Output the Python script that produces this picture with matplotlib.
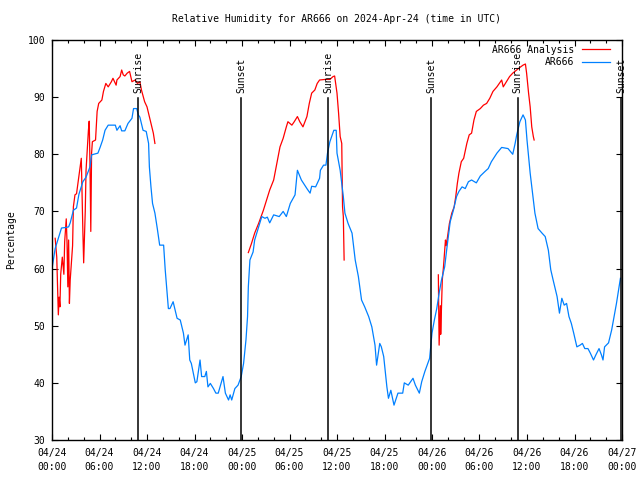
import numpy as np
import matplotlib
matplotlib.use("Agg")
import matplotlib.pyplot as plt
from matplotlib.ticker import MultipleLocator

# ---- data (hours since 2024-04-24 00:00 UTC, relative humidity %) ----
obs_t = [0.0, 0.4, 0.8, 1.2, 1.8, 2.1, 2.3, 2.7, 3.1, 3.4, 3.9, 4.3, 4.8, 5.0, 5.8, 6.1, 6.4, 6.7,
         7.1, 8.0, 8.2, 8.6, 8.8, 9.2, 9.6, 10.1, 10.3, 10.7, 10.9, 11.1, 11.5, 11.9, 12.2, 12.3,
         12.5, 12.7, 13.0, 13.3, 13.6, 14.1, 14.3, 14.5, 14.7, 14.9, 15.3, 15.8, 16.2, 16.6, 16.8,
         17.2, 17.4, 17.6, 18.1, 18.3, 18.7, 18.9, 19.3, 19.5, 19.7, 20.0, 20.4, 20.7, 21.0, 21.6,
         21.9, 22.3, 22.5, 22.7, 23.1, 23.5, 23.9, 24.2, 24.5, 24.7, 24.8, 25.0, 25.4, 25.6, 26.1,
         26.5, 26.9, 27.2, 27.5, 28.0, 28.7, 29.2, 29.6, 30.1, 30.7, 31.0, 31.5, 32.2, 32.6, 32.8,
         33.3, 33.8, 33.9, 34.3, 34.6, 34.8, 35.1, 35.6, 35.9, 36.0, 36.4, 36.8, 37.0, 37.4, 37.9,
         38.3, 38.7, 39.1, 39.5, 40.0, 40.4, 40.8, 41.0, 41.4, 41.6, 41.9, 42.3, 42.5, 42.8, 43.2,
         43.7, 44.3, 44.5, 45.0, 45.2, 45.6, 45.9, 46.4, 46.7, 47.1, 47.7, 48.0, 48.3, 48.6, 48.9,
         49.2, 49.6, 49.9, 50.3, 50.7, 51.1, 51.4, 51.8, 52.2, 52.6, 53.0, 53.6, 54.1, 54.7, 55.1,
         55.5, 56.2, 56.8, 57.6, 57.9, 58.2, 58.5, 58.7, 59.1, 59.5, 59.8, 60.0, 60.4, 60.7, 61.0,
         61.4, 61.9, 62.3, 62.7, 63.0, 63.3, 63.8, 64.1, 64.4, 64.7, 65.0, 65.3, 65.6, 65.9, 66.3,
         66.7, 67.0, 67.3, 67.7, 68.0, 68.4, 68.7, 69.1, 69.4, 69.6, 69.8, 70.3, 70.7, 71.0, 71.3,
         71.7, 71.8]
obs_rh = [60.0, 63.5, 65.3, 67.1, 67.2, 67.3, 68.0, 70.2, 70.6, 73.0, 75.2, 76.0, 77.8, 79.9, 80.2,
          81.3, 82.5, 84.2, 85.1, 85.1, 84.2, 85.0, 84.1, 84.1, 85.4, 86.3, 88.0, 88.0, 86.9, 86.5,
          84.2, 84.0, 81.9, 77.8, 74.3, 71.4, 69.7, 67.0, 64.1, 64.1, 59.8, 56.3, 53.0, 53.0, 54.2,
          51.3, 51.0, 48.7, 46.6, 48.4, 44.0, 43.4, 40.0, 40.2, 44.0, 41.1, 41.1, 42.0, 39.3, 39.9,
          39.0, 38.2, 38.2, 41.1, 38.2, 37.0, 37.9, 37.0, 39.0, 39.6, 41.1, 43.4, 47.5, 51.6, 56.8,
          61.5, 62.9, 65.0, 67.3, 69.1, 68.8, 69.0, 68.0, 69.4, 69.1, 70.0, 69.1, 71.4, 72.9, 77.2,
          75.5, 74.0, 73.2, 74.4, 74.3, 75.8, 77.2, 78.1, 78.1, 80.2, 82.2, 84.2, 84.2, 80.2, 77.2,
          72.6, 69.7, 67.9, 66.2, 61.5, 58.6, 54.5, 53.3, 51.6, 49.8, 46.6, 43.1, 46.9, 46.3, 44.6,
          39.3, 37.3, 38.7, 36.1, 38.2, 38.2, 40.0, 39.6, 40.0, 40.8, 39.6, 38.2, 40.2, 42.0, 44.3,
          48.7, 51.0, 53.0, 55.7, 58.0, 60.3, 63.8, 68.2, 70.2, 72.6, 73.5, 74.3, 74.0, 75.2, 75.5,
          75.0, 76.2, 77.0, 77.5, 78.7, 80.2, 81.2, 81.0, 80.5, 80.0, 81.9, 83.4, 85.7, 86.9, 86.0,
          82.5, 76.7, 73.2, 69.7, 67.0, 66.2, 65.6, 63.2, 59.8, 58.0, 55.1, 52.2, 54.8, 53.6, 53.9,
          51.6, 50.4, 48.7, 46.3, 46.6, 46.9, 46.0, 46.0, 45.2, 44.0, 44.9, 46.0, 44.9, 44.0, 46.3,
          47.0, 49.3, 51.6, 53.9, 57.4, 58.3]

ana_t = [0.4, 0.6, 0.8, 0.9, 1.0, 1.1, 1.3, 1.5, 1.6, 1.8, 1.9, 2.0, 2.1, 2.2, 2.3, 2.6, 2.7, 2.9,
         3.1, 3.5, 3.7, 3.9, 4.0, 4.2, 4.3, 4.6, 4.7, 4.8, 4.9, 5.0, 5.1, 5.5, 5.7, 5.9, 6.3, 6.5,
         6.8, 7.1, 7.5, 7.7, 8.1, 8.2, 8.6, 8.8, 9.0, 9.2, 9.5, 9.8, 10.1, 10.5, 10.8, 11.1, 11.3,
         11.7, 12.0, 12.4, 12.8, 13.0, np.nan,
         24.8, 25.2, 25.6, 26.1, 26.7, 27.1, 27.5, 28.0, 28.4, 28.8, 29.2, 29.6, 29.8, 30.3, 30.6,
         31.0, 31.3, 31.7, 32.2, 32.5, 32.8, 33.2, 33.5, 33.8, 34.5, 35.1, 35.5, 35.7, 36.0, 36.2,
         36.4, 36.6, 36.7, 36.8, 36.9, np.nan,
         48.8, 48.9, 49.05, 49.1, 49.2, 49.3, 49.45, 49.7, 49.8, 50.2, 50.5, 50.8, 51.0, 51.2, 51.4,
         51.7, 52.0, 52.4, 52.7, 53.0, 53.3, 53.6, 54.1, 54.5, 54.9, 55.3, 55.7, 56.2, 56.5, 56.8,
         57.0, 57.4, 57.8, 58.2, 58.7, 59.1, 59.5, 59.8, 59.95, 60.2, 60.4, 60.6, 60.8, 60.9]
ana_rh = [65.3, 62.0, 51.9, 55.0, 53.3, 59.0, 62.0, 59.0, 64.7, 68.7, 64.5, 56.8, 65.0, 53.9, 58.0,
          64.0, 70.8, 72.9, 73.1, 77.2, 79.3, 66.5, 61.0, 70.0, 77.2, 84.2, 85.8, 78.0, 66.5, 80.2,
          82.2, 82.5, 87.5, 88.9, 89.5, 91.0, 92.4, 91.8, 92.7, 93.3, 92.1, 93.0, 93.6, 94.75, 93.9,
          93.7, 94.2, 94.5, 92.7, 93.0, 92.4, 92.7, 91.25, 89.2, 88.3, 86.0, 83.7, 81.9, np.nan,
          62.8, 64.4, 66.2, 67.9, 70.2, 72.0, 73.75, 75.5, 78.4, 81.3, 82.8, 84.8, 85.7, 85.1, 85.7,
          86.6, 85.7, 84.8, 86.6, 88.9, 90.7, 91.25, 92.4, 93.0, 93.1, 93.1, 93.6, 93.7, 90.7, 87.2,
          83.1, 81.9, 70.8, 69.1, 61.5, np.nan,
          58.9, 46.6, 53.5, 48.5, 53.0, 58.0, 60.3, 65.0, 64.0, 67.9, 69.7, 70.8, 72.6, 74.9, 76.7,
          78.7, 79.3, 81.9, 83.4, 83.7, 86.0, 87.5, 88.0, 88.6, 88.9, 89.8, 91.0, 91.8, 92.4, 93.0,
          91.8, 92.7, 93.6, 94.2, 94.75, 95.2, 95.6, 95.8, 94.2, 90.7, 88.3, 84.8, 83.1, 82.5]

sunrise_t = [10.87, 34.87, 58.82]
sunset_t = [23.87, 47.87, 71.87]

xtick_hours = [0, 6, 12, 18, 24, 30, 36, 42, 48, 54, 60, 66, 72]
xtick_labels = ["04/24\n00:00", "04/24\n06:00", "04/24\n12:00", "04/24\n18:00",
                "04/25\n00:00", "04/25\n06:00", "04/25\n12:00", "04/25\n18:00",
                "04/26\n00:00", "04/26\n06:00", "04/26\n12:00", "04/26\n18:00",
                "04/27\n00:00"]

FONT = "DejaVu Sans Mono"
FS = 7

fig = plt.figure(figsize=(6.4, 4.8), dpi=100)
ax = fig.add_axes([52/640, 40/480, 570/640, 400/480])

l_ana, = ax.plot(ana_t, ana_rh, color="#ff0000", lw=0.9, label="AR666 Analysis")
l_obs, = ax.plot(obs_t, obs_rh, color="#0080ff", lw=0.9, label="AR666")

for t in sunrise_t:
    ax.plot([t, t], [30, 89.8], color="black", lw=1.1)
    ax.text(t, 90.8, "Sunrise", rotation=90, ha="center", va="bottom",
            family=FONT, fontsize=FS, clip_on=False)
for t in sunset_t:
    ax.plot([t, t], [30, 89.8], color="black", lw=1.1)
    ax.text(t, 90.8, "Sunset", rotation=90, ha="center", va="bottom",
            family=FONT, fontsize=FS, clip_on=False)

ax.set_xlim(0, 72)
ax.set_ylim(30, 100)
ax.set_xticks(xtick_hours)
ax.set_xticklabels(xtick_labels, family=FONT, fontsize=FS)
for lbl in ax.get_xticklabels():
    lbl.set_linespacing(1.45)
ax.xaxis.set_minor_locator(MultipleLocator(2))
ax.yaxis.set_major_locator(MultipleLocator(10))
for lbl in ax.get_yticklabels():
    lbl.set_family(FONT)
    lbl.set_fontsize(FS)
ax.tick_params(axis="both", which="both", direction="in", top=True, right=True,
               colors="black", width=0.8)
ax.tick_params(axis="both", which="major", length=4.0)
ax.tick_params(axis="x", which="minor", length=2.0)
ax.tick_params(axis="x", which="major", pad=6)
ax.tick_params(axis="y", which="major", pad=5)
for s in ax.spines.values():
    s.set_linewidth(1.0)

ax.set_ylabel("Percentage", family=FONT, fontsize=FS, labelpad=8)
ax.set_title("Relative Humidity for AR666 on 2024-Apr-24 (time in UTC)",
             family=FONT, fontsize=FS, pad=13)

ax.legend(handles=[l_ana, l_obs], loc="upper right", bbox_to_anchor=(0.988, 1.0),
          frameon=False, markerfirst=False,
          prop={"family": FONT, "size": FS}, handlelength=2.9, borderaxespad=0.1,
          labelspacing=0.25, handletextpad=0.8)

fig.savefig("out.png", dpi=100)
